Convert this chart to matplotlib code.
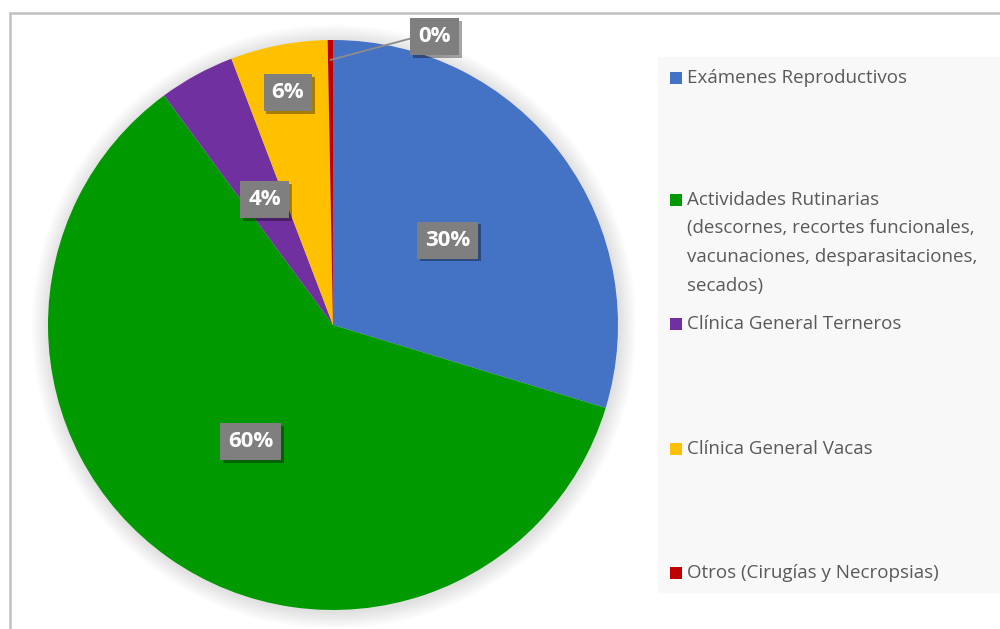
import numpy as np
import matplotlib
matplotlib.use("Agg")
import matplotlib.pyplot as plt
from matplotlib.patches import Rectangle, Circle
import matplotlib.patheffects as pe

# ---- data ----
categories = [
    "Exámenes Reproductivos",
    "Actividades Rutinarias\n(descornes, recortes funcionales,\nvacunaciones, desparasitaciones,\nsecados)",
    "Clínica General Terneros",
    "Clínica General Vacas",
    "Otros (Cirugías y Necropsias)",
]
values = [29.7, 60.2, 4.3, 5.5, 0.3]
pct_labels = ["30%", "60%", "4%", "6%", "0%"]

# ---- style ----
colors = ["#4472C4", "#009900", "#7030A0", "#FFC000", "#C00000"]
label_dist = [0.5, 0.5, 0.5, 0.83, None]
legend_y_px = [78, 200, 324, 449, 573]
FONT = "Open Sans"

W, H = 1000, 629
fig = plt.figure(figsize=(W / 100, H / 100), dpi=100)
fig.patch.set_facecolor("white")

def fx(px):
    return px / W

def fy(py):
    return 1 - py / H

# outer border
fig.patches.append(Rectangle((fx(10), fy(640)), fx(1000), 627 / H, transform=fig.transFigure,
                             fill=False, edgecolor="#c0c0c0", linewidth=1.8, zorder=0))
# legend background
fig.patches.append(Rectangle((fx(658), fy(593)), fx(350), (593 - 57) / H, transform=fig.transFigure,
                             facecolor="#f8f8f8", edgecolor="none", zorder=0))

ax = fig.add_axes([0, 0, 1, 1])
ax.set_axis_off()

# soft shadow behind the pie
for i in range(10):
    r = 1.0 + 0.006 * (i + 1)
    ax.add_patch(Circle((0.004, -0.006), r, facecolor="black", edgecolor="none",
                        alpha=0.012, zorder=0))

wedges, _ = ax.pie(values, colors=colors, startangle=90, counterclock=False, radius=1,
                   wedgeprops=dict(linewidth=0, zorder=2))
ax.set_xlim(-1.06, 1.06)
ax.set_ylim(-1.06, 1.06)
ax.set_position([fx(48 - 0.06 * 285), fy(610 + 0.06 * 285), 570 * 1.06 / W, 570 * 1.06 / H])

box = dict(boxstyle="square,pad=0.36", facecolor="#7f7f7f", edgecolor="none")
shadow = [pe.SimplePatchShadow(offset=(2, -2), shadow_rgbFace="black", alpha=0.35), pe.Normal()]

for w, lab, d in zip(wedges, pct_labels, label_dist):
    mid = np.deg2rad((w.theta1 + w.theta2) / 2)
    if d is not None:
        t = ax.text(d * np.cos(mid), d * np.sin(mid), lab, ha="center", va="center",
                    fontsize=16, fontweight="bold", color="white", family=FONT, bbox=box, zorder=5)
    else:
        xy = (0.93 * np.cos(mid), 0.93 * np.sin(mid))
        t = ax.annotate(lab, xy=xy, xytext=(75, 17), textcoords="offset points",
                        ha="center", va="center", fontsize=16, fontweight="bold", color="white",
                        family=FONT, bbox=box, zorder=5, annotation_clip=False,
                        arrowprops=dict(arrowstyle="-", color="#8c8c8c", lw=1.3,
                                        connectionstyle="angle,angleA=180,angleB=15,rad=0",
                                        shrinkA=0, shrinkB=0))
    t.get_bbox_patch().set_path_effects(shadow)

# legend (manual)
for cat, col, ypx in zip(categories, colors, legend_y_px):
    fig.patches.append(Rectangle((fx(670), fy(ypx + 6)), 12 / W, 12 / H, transform=fig.transFigure,
                                 facecolor=col, edgecolor="none", zorder=3))
    for k, line in enumerate(cat.split("\n")):
        fig.text(fx(687), fy(ypx + 28.5 * k), line, ha="left", va="center", fontsize=13.5,
                 color="#595959", family=FONT)

fig.savefig("out.png", dpi=100)
